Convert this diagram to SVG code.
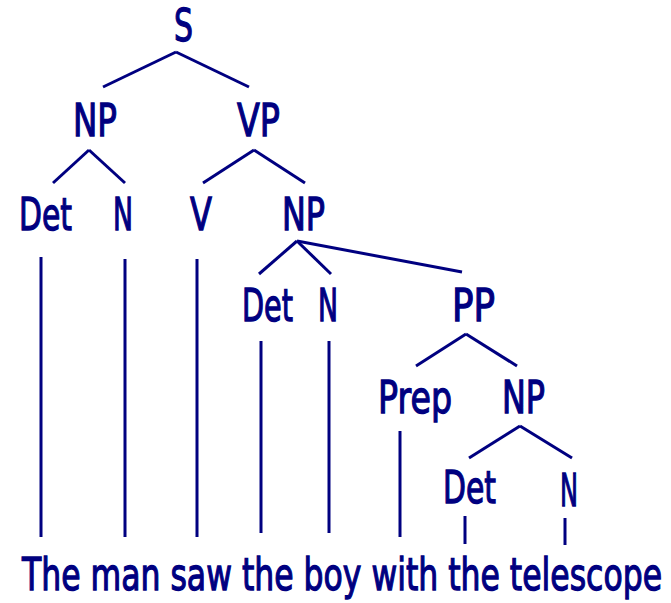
<svg xmlns="http://www.w3.org/2000/svg" width="671" height="603" viewBox="0 0 671 603">
<style>
text{font-family:"DejaVu Sans","Liberation Sans",sans-serif;font-size:44px;fill:#000080;stroke:#000080;stroke-width:1.3;text-anchor:middle}
#connectors line{stroke:#000080;stroke-width:3;stroke-linecap:butt}
</style>
<rect width="671" height="603" fill="#fff"/>
<g id="connectors">
<line x1="176" y1="52" x2="103" y2="87"/>
<line x1="176" y1="52" x2="249" y2="87"/>
<line x1="89" y1="150" x2="53" y2="183"/>
<line x1="89" y1="150" x2="125" y2="183"/>
<line x1="254" y1="150" x2="203" y2="183"/>
<line x1="254" y1="150" x2="305" y2="183"/>
<line x1="297" y1="241" x2="259" y2="274"/>
<line x1="297" y1="241" x2="331" y2="274"/>
<line x1="297" y1="241" x2="462" y2="272"/>
<line x1="466" y1="334" x2="416" y2="366"/>
<line x1="466" y1="334" x2="517" y2="366"/>
<line x1="520" y1="426" x2="469" y2="458"/>
<line x1="520" y1="426" x2="572" y2="458"/>
<line x1="41" y1="257" x2="41" y2="537"/>
<line x1="125" y1="259" x2="125" y2="537"/>
<line x1="197" y1="259" x2="197" y2="537"/>
<line x1="261" y1="341" x2="261" y2="533"/>
<line x1="329" y1="341" x2="329" y2="533"/>
<line x1="400" y1="431" x2="400" y2="537"/>
<line x1="465" y1="516" x2="465" y2="544"/>
<line x1="565" y1="518" x2="565" y2="545"/>
</g>
<g id="S"><text x="183.5" y="41" textLength="19" lengthAdjust="spacingAndGlyphs">S</text></g>
<g id="NP1"><text x="95" y="136" textLength="44" lengthAdjust="spacingAndGlyphs">NP</text></g>
<g id="VP"><text x="258.5" y="136" textLength="43" lengthAdjust="spacingAndGlyphs">VP</text></g>
<g id="Det1"><text x="45.5" y="230" textLength="53" lengthAdjust="spacingAndGlyphs">Det</text></g>
<g id="N1"><text x="123" y="230" textLength="20" lengthAdjust="spacingAndGlyphs">N</text></g>
<g id="V"><text x="201" y="230" textLength="22" lengthAdjust="spacingAndGlyphs">V</text></g>
<g id="NP2"><text x="303.5" y="230" textLength="43" lengthAdjust="spacingAndGlyphs">NP</text></g>
<g id="Det2"><text x="267.5" y="321" textLength="51" lengthAdjust="spacingAndGlyphs">Det</text></g>
<g id="N2"><text x="328" y="321" textLength="20" lengthAdjust="spacingAndGlyphs">N</text></g>
<g id="PP"><text x="473.5" y="321" textLength="43" lengthAdjust="spacingAndGlyphs">PP</text></g>
<g id="Prep"><text x="415" y="413" textLength="74" lengthAdjust="spacingAndGlyphs">Prep</text></g>
<g id="NP3"><text x="523.5" y="413" textLength="43" lengthAdjust="spacingAndGlyphs">NP</text></g>
<g id="Det3"><text x="469.5" y="503" textLength="53" lengthAdjust="spacingAndGlyphs">Det</text></g>
<g id="N3"><text x="569" y="506" textLength="18" lengthAdjust="spacingAndGlyphs">N</text></g>
<g id="sentence"><text x="342" y="590" textLength="640" lengthAdjust="spacingAndGlyphs">The man saw the boy with the telescope</text></g>
</svg>
